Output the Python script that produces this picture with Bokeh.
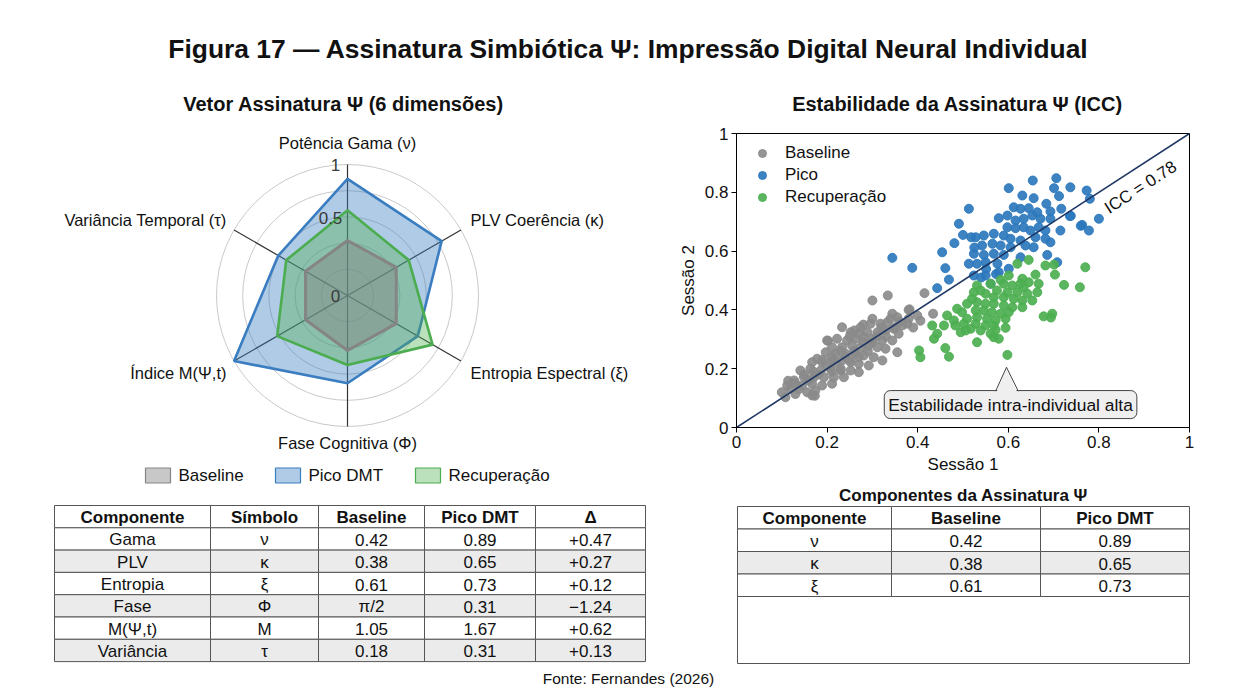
import math
from bokeh.plotting import figure
from bokeh.layouts import column, row
from bokeh.models import Range1d, Legend, LegendItem, Label, FixedTicker
from bokeh.core.properties import value
from bokeh.embed import file_html
from bokeh.resources import INLINE

FONT = "Liberation Sans"

# ---------------- data ----------------
title_main = "Figura 17 — Assinatura Simbiótica Ψ: Impressão Digital Neural Individual"
title_radar = "Vetor Assinatura Ψ (6 dimensões)"
title_scatter = "Estabilidade da Assinatura Ψ (ICC)"
footer_text = "Fonte: Fernandes (2026)"

radar_axes = ["Potência Gama (ν)", "PLV Coerência (κ)", "Entropia Espectral (ξ)",
              "Fase Cognitiva (Φ)", "Índice M(Ψ,t)", "Variância Temporal (τ)"]
radar_baseline = [0.42, 0.43, 0.43, 0.42, 0.37, 0.37]
radar_pico = [0.89, 0.83, 0.62, 0.67, 1.00, 0.61]
radar_recup = [0.65, 0.54, 0.75, 0.53, 0.62, 0.54]
radar_rings = [0.2, 0.4, 0.6, 0.8, 1.0]
radar_rlabels = ["0", "0.5", "1"]
radar_series = ["Baseline", "Pico DMT", "Recuperação"]

baseline_x = [0.334, 0.300, 0.415, 0.380, 0.399, 0.434, 0.344, 0.355, 0.333, 0.318, 0.296, 0.274,
              0.233, 0.252, 0.289, 0.311, 0.329, 0.347, 0.366, 0.377, 0.358, 0.344, 0.322, 0.300,
              0.281, 0.263, 0.244, 0.222, 0.200, 0.211, 0.233, 0.255, 0.274, 0.292, 0.311, 0.329,
              0.355, 0.322, 0.303, 0.281, 0.263, 0.241, 0.219, 0.197, 0.178, 0.167, 0.189, 0.211,
              0.233, 0.252, 0.270, 0.292, 0.252, 0.230, 0.208, 0.186, 0.163, 0.141, 0.149, 0.171,
              0.193, 0.215, 0.237, 0.270, 0.127, 0.145, 0.167, 0.189, 0.211, 0.119, 0.138, 0.112,
              0.108, 0.167, 0.174, 0.156, 0.100, 0.130, 0.382, 0.406, 0.202, 0.114, 0.173,
              0.26, 0.28, 0.30, 0.24, 0.22, 0.20, 0.18, 0.16, 0.25, 0.27, 0.31, 0.33, 0.35, 0.29,
              0.23, 0.21, 0.19, 0.17, 0.15, 0.13, 0.32, 0.34, 0.36, 0.38, 0.39, 0.27, 0.25, 0.23,
              0.21, 0.28, 0.30, 0.26]
baseline_y = [0.449, 0.432, 0.457, 0.400, 0.381, 0.387, 0.387, 0.375, 0.358, 0.353, 0.353, 0.341,
              0.341, 0.324, 0.324, 0.324, 0.330, 0.336, 0.347, 0.353, 0.319, 0.296, 0.296, 0.302,
              0.307, 0.302, 0.296, 0.302, 0.296, 0.273, 0.273, 0.279, 0.273, 0.279, 0.273, 0.268,
              0.256, 0.228, 0.239, 0.245, 0.251, 0.251, 0.251, 0.256, 0.234, 0.222, 0.222, 0.228,
              0.228, 0.222, 0.217, 0.211, 0.194, 0.194, 0.200, 0.194, 0.200, 0.194, 0.171, 0.171,
              0.171, 0.171, 0.171, 0.188, 0.160, 0.143, 0.149, 0.143, 0.149, 0.131, 0.131, 0.143,
              0.103, 0.109, 0.126, 0.120, 0.120, 0.114, 0.402, 0.363, 0.295, 0.159, 0.108,
              0.26, 0.29, 0.29, 0.24, 0.22, 0.21, 0.18, 0.16, 0.31, 0.32, 0.31, 0.31, 0.34, 0.26,
              0.26, 0.24, 0.23, 0.19, 0.18, 0.15, 0.34, 0.37, 0.36, 0.37, 0.34, 0.24, 0.23, 0.20,
              0.19, 0.35, 0.37, 0.33]

pico_x = [0.654, 0.706, 0.601, 0.701, 0.737, 0.773, 0.631, 0.656, 0.712, 0.780, 0.684, 0.612,
          0.627, 0.645, 0.664, 0.693, 0.717, 0.736, 0.579, 0.598, 0.616, 0.634, 0.653, 0.671,
          0.693, 0.800, 0.763, 0.778, 0.715, 0.598, 0.616, 0.634, 0.649, 0.667, 0.682, 0.546,
          0.568, 0.590, 0.605, 0.627, 0.660, 0.682, 0.693, 0.528, 0.542, 0.565, 0.583, 0.605,
          0.638, 0.656, 0.524, 0.546, 0.568, 0.590, 0.627, 0.686, 0.708, 0.531, 0.550, 0.576,
          0.601, 0.524, 0.550, 0.579, 0.561, 0.513, 0.491, 0.500, 0.518, 0.481, 0.454, 0.344,
          0.388, 0.461, 0.513, 0.469, 0.443, 0.760, 0.738, 0.551, 0.573, 0.540, 0.525]
pico_y = [0.840, 0.848, 0.814, 0.814, 0.817, 0.806, 0.789, 0.780, 0.787, 0.778, 0.761, 0.749,
          0.744, 0.746, 0.732, 0.735, 0.744, 0.719, 0.712, 0.721, 0.704, 0.710, 0.721, 0.710,
          0.710, 0.710, 0.689, 0.670, 0.670, 0.681, 0.678, 0.681, 0.670, 0.681, 0.670, 0.653,
          0.659, 0.653, 0.642, 0.636, 0.647, 0.642, 0.630, 0.647, 0.619, 0.625, 0.619, 0.613,
          0.619, 0.613, 0.591, 0.587, 0.591, 0.587, 0.579, 0.587, 0.562, 0.557, 0.562, 0.557,
          0.540, 0.517, 0.517, 0.528, 0.489, 0.744, 0.693, 0.655, 0.647, 0.627, 0.596, 0.577,
          0.543, 0.542, 0.557, 0.503, 0.474, 0.686, 0.720, 0.539, 0.522, 0.510, 0.612]

recup_x = [0.645, 0.620, 0.682, 0.701, 0.770, 0.660, 0.703, 0.723, 0.758, 0.601, 0.631, 0.583,
           0.531, 0.561, 0.590, 0.609, 0.627, 0.645, 0.667, 0.575, 0.598, 0.620, 0.642, 0.653,
           0.631, 0.612, 0.590, 0.568, 0.550, 0.520, 0.531, 0.550, 0.568, 0.590, 0.609, 0.631,
           0.509, 0.487, 0.498, 0.528, 0.546, 0.564, 0.583, 0.601, 0.465, 0.480, 0.509, 0.531,
           0.553, 0.572, 0.594, 0.502, 0.528, 0.550, 0.568, 0.594, 0.432, 0.458, 0.483, 0.495,
           0.517, 0.539, 0.561, 0.443, 0.436, 0.568, 0.579, 0.678, 0.697, 0.531, 0.461, 0.403,
           0.406, 0.469, 0.598, 0.506, 0.572, 0.634, 0.664, 0.524, 0.539, 0.694]
recup_y = [0.570, 0.557, 0.551, 0.554, 0.545, 0.520, 0.520, 0.485, 0.477, 0.517, 0.506, 0.502,
           0.483, 0.489, 0.489, 0.483, 0.489, 0.494, 0.489, 0.466, 0.460, 0.460, 0.455, 0.432,
           0.432, 0.438, 0.443, 0.443, 0.455, 0.438, 0.426, 0.421, 0.421, 0.415, 0.409, 0.409,
           0.421, 0.404, 0.392, 0.398, 0.398, 0.392, 0.387, 0.392, 0.381, 0.364, 0.370, 0.375,
           0.370, 0.364, 0.370, 0.353, 0.353, 0.347, 0.347, 0.339, 0.347, 0.347, 0.347, 0.324,
           0.336, 0.330, 0.319, 0.319, 0.302, 0.307, 0.302, 0.378, 0.387, 0.290, 0.270, 0.262,
           0.239, 0.241, 0.247, 0.330, 0.332, 0.477, 0.460, 0.460, 0.466, 0.374]

scatter_series = ["Baseline", "Pico", "Recuperação"]
icc_text = "ICC = 0.78"
annot_text = "Estabilidade intra-individual alta"
annot_target = (0.596, 0.205)
annot_pos = (0.605, 0.078)
tick_vals = [0, 0.2, 0.4, 0.6, 0.8, 1]
tick_labels = ["0", "0.2", "0.4", "0.6", "0.8", "1"]
x_label = "Sessão 1"
y_label = "Sessão 2"

tbl_cols = ["Componente", "Símbolo", "Baseline", "Pico DMT", "Δ"]
tbl_comp = ["Gama", "PLV", "Entropia", "Fase", "M(Ψ,t)", "Variância"]
tbl_sym = ["ν", "κ", "ξ", "Φ", "M", "τ"]
tbl_base = ["0.42", "0.38", "0.61", "π/2", "1.05", "0.18"]
tbl_pico = ["0.89", "0.65", "0.73", "0.31", "1.67", "0.31"]
tbl_delta = ["+0.47", "+0.27", "+0.12", "−1.24", "+0.62", "+0.13"]

rt_title = "Componentes da Assinatura Ψ"
rt_cols = ["Componente", "Baseline", "Pico DMT"]
rt_sym = ["ν", "κ", "ξ"]
rt_base = ["0.42", "0.38", "0.61"]
rt_pico = ["0.89", "0.65", "0.73"]

C_GRAY = "#858585"
C_BLUE = "#3a7dc0"
C_GREEN = "#4cad50"
C_SC_GRAY = "#8a8a8a"
C_SC_BLUE = "#2c78bd"
C_SC_GREEN = "#4caf50"

W = 1240
MID_TOP, MID_BOT = 120, 484


def blank(width, height, xr, yr):
    p = figure(width=width, height=height, x_range=Range1d(*xr), y_range=Range1d(*yr),
               output_backend="svg", toolbar_location=None, min_border=0,
               x_axis_location=None, y_axis_location=None)
    p.grid.visible = False
    p.outline_line_color = None
    p.background_fill_color = "white"
    p.border_fill_color = "white"
    return p


def txt(p, x, y, s, size, bold=False, align="center", color="#111111", angle=0.0):
    p.text(x=[x], y=[y], text=[s], text_font=value(FONT), text_font_size=size,
           text_font_style="bold" if bold else "normal", text_align=align,
           text_baseline="middle", text_color=color, angle=angle)


# ---------------- header (page y 0..120) ----------------
header = blank(W, MID_TOP, (0, W), (MID_TOP, 0))
txt(header, 628, 48, title_main, "26.4px", bold=True)
txt(header, 343, 103, title_radar, "20px", bold=True)
txt(header, 957, 103, title_scatter, "20px", bold=True)

# ---------------- radar (page x 0..668) ----------------
CX, CY, R = 347, 295, 131.0


def ux(px):
    return (px - CX) / R


def uy(py):
    return (CY - py) / R


radar = blank(668, MID_BOT - MID_TOP, (ux(0), ux(668)), (uy(MID_BOT), uy(MID_TOP)))
angles = [math.radians(90 - 60 * i) for i in range(6)]

radar.circle(x=[0] * len(radar_rings), y=[0] * len(radar_rings), radius=radar_rings,
             fill_color=None, line_color="#c9c9c9", line_width=1)
radar.segment(x0=[0] * 6, y0=[0] * 6, x1=[math.cos(a) for a in angles],
              y1=[math.sin(a) for a in angles], line_color="#333333", line_width=1.2)


def poly(vals):
    return ([v * math.cos(a) for v, a in zip(vals, angles)],
            [v * math.sin(a) for v, a in zip(vals, angles)])


styles = [(C_GRAY, 0.45, 3.0), (C_BLUE, 0.40, 2.6), (C_GREEN, 0.38, 2.6)]
for vals, (col, fa, lw) in [(radar_pico, styles[1]), (radar_recup, styles[2]),
                            (radar_baseline, styles[0])]:
    xs, ys = poly(vals)
    radar.patch(xs, ys, fill_color=col, fill_alpha=fa, line_color=col, line_width=lw)

# axis labels (pixel offsets from centre)
lab_off = [(0, 153, "center"), (123, 76, "left"), (123, -77, "left"),
           (0, -147, "center"), (-121, -77, "right"), (-121, 76, "right")]
for name, (dx, dy, al) in zip(radar_axes, lab_off):
    txt(radar, dx / R, dy / R, name, "16.5px", align=al)

for s, (dx, dy) in zip(radar_rlabels, [(-12, 0), (-17, 78), (-12, 131)]):
    txt(radar, dx / R, dy / R, s, "17px", color="#3a3a3a")

# legend of the radar (drawn as boxes + labels)
leg_x = [145, 275, 415]
for lx, name, (col, fa, lw) in zip(leg_x, radar_series, styles):
    radar.quad(left=[ux(lx)], right=[ux(lx + 25)], top=[uy(467.5)], bottom=[uy(482.5)],
               fill_color=col, fill_alpha=fa, line_color=col, line_width=1.2)
    txt(radar, ux(lx + 33), uy(475), name, "17px", align="left")

# ---------------- scatter (page x 668..1240) ----------------
sc = figure(width=W - 668, height=MID_BOT - MID_TOP, x_range=Range1d(0, 1),
            y_range=Range1d(0, 1), output_backend="svg", toolbar_location=None,
            min_border_left=68, min_border_right=W - 1189, min_border_top=133 - MID_TOP,
            min_border_bottom=MID_BOT - 427)
sc.grid.visible = False
sc.outline_line_color = "black"
sc.outline_line_width = 1
sc.outline_line_alpha = 1
sc.background_fill_color = "white"
sc.border_fill_color = "white"
for ax, lbl in [(sc.xaxis[0], x_label), (sc.yaxis[0], y_label)]:
    ax.ticker = FixedTicker(ticks=tick_vals)
    ax.major_label_overrides = {v: s for v, s in zip(tick_vals, tick_labels)}
    ax.minor_tick_line_color = None
    ax.major_tick_in = 0
    ax.major_tick_out = 5
    ax.major_tick_line_color = "black"
    ax.axis_line_color = "black"
    ax.major_label_text_font = FONT
    ax.major_label_text_font_size = "17px"
    ax.major_label_text_color = "#111111"
    ax.major_label_standoff = 3
    ax.axis_label = lbl
    ax.axis_label_text_font = FONT
    ax.axis_label_text_font_size = "17px"
    ax.axis_label_text_font_style = "normal"
    ax.axis_label_text_color = "#111111"
    ax.axis_label_standoff = 4

r_b = sc.scatter(baseline_x, baseline_y, size=9, color=C_SC_GRAY, alpha=0.9)
r_p = sc.scatter(pico_x, pico_y, size=9, color=C_SC_BLUE, alpha=0.92)
r_g = sc.scatter(recup_x, recup_y, size=9, color=C_SC_GREEN, alpha=0.92)
sc.line([0, 1], [0, 1], line_color="#1f3864", line_width=1.6)

sleg = Legend(items=[LegendItem(label=n, renderers=[r]) for n, r in
                     zip(scatter_series, [r_b, r_p, r_g])],
              location=(16, 219), glyph_width=20, glyph_height=22, label_height=22,
              label_standoff=13, spacing=0, padding=0, margin=0,
              border_line_color=None, background_fill_alpha=0,
              label_text_font=FONT, label_text_font_size="17px", label_text_color="#111111")
sc.add_layout(sleg)

sc.text(x=[0.892], y=[0.817], text=[icc_text], angle=math.atan2(294, 453),
        text_font=value(FONT), text_font_size="17px", text_align="center",
        text_baseline="middle", text_color="#111111")

sc.add_layout(Label(x=annot_pos[0], y=annot_pos[1], text=annot_text, text_align="center",
                    text_baseline="middle", text_font=FONT, text_font_size="17.4px",
                    text_color="#111111", background_fill_color="#efefef",
                    border_line_color="#444444", border_line_width=1, padding=4,
                    border_radius=6))
box_top = 0.1235
tx, ty = annot_target
sc.patch([tx - 0.024, tx, tx + 0.026], [box_top - 0.012, ty, box_top - 0.012],
         fill_color="#efefef", line_color=None, level="overlay")
sc.line([tx - 0.024, tx, tx + 0.026], [box_top, ty, box_top], line_color="#444444",
        line_width=1, level="overlay")

# ---------------- tables + footer (page y 484..688) ----------------
bottom = blank(W, 688 - MID_BOT, (0, W), (688, MID_BOT))


def table(p, col_edges, top, rh, header_cells, rows, shaded, font_size):
    n = len(rows) + 1
    L, Rr, T, B, F = [], [], [], [], []
    for r in range(n):
        for c in range(len(col_edges) - 1):
            L.append(col_edges[c]); Rr.append(col_edges[c + 1])
            T.append(top + r * rh); B.append(top + (r + 1) * rh)
            F.append("#ebebeb" if r in shaded else "white")
    p.quad(left=L, right=Rr, top=T, bottom=B, fill_color=F, line_color="#555555", line_width=1)
    for c, h in enumerate(header_cells):
        txt(p, (col_edges[c] + col_edges[c + 1]) / 2, top + rh / 2 + 1, h, font_size, bold=True)
    for r, cells in enumerate(rows):
        for c, s in enumerate(cells):
            txt(p, (col_edges[c] + col_edges[c + 1]) / 2, top + (r + 1.5) * rh + 1, s, font_size)


table(bottom, [54, 210, 318, 424, 535, 645], 505, 22.3, tbl_cols,
      list(zip(tbl_comp, tbl_sym, tbl_base, tbl_pico, tbl_delta)), {2, 4, 6}, "17px")

txt(bottom, 963, 495, rt_title, "17px", bold=True)
bottom.quad(left=[737], right=[1189], top=[596], bottom=[663], fill_color="white",
            line_color="#555555", line_width=1)
table(bottom, [737, 891, 1040, 1189], 506, 22.5, rt_cols,
      list(zip(rt_sym, rt_base, rt_pico)), {2}, "17px")

txt(bottom, 628, 678, footer_text, "15.5px")

layout = column(header, row(column(radar), column(sc)), bottom)
open("out.html", "w").write(file_html(layout, INLINE))
